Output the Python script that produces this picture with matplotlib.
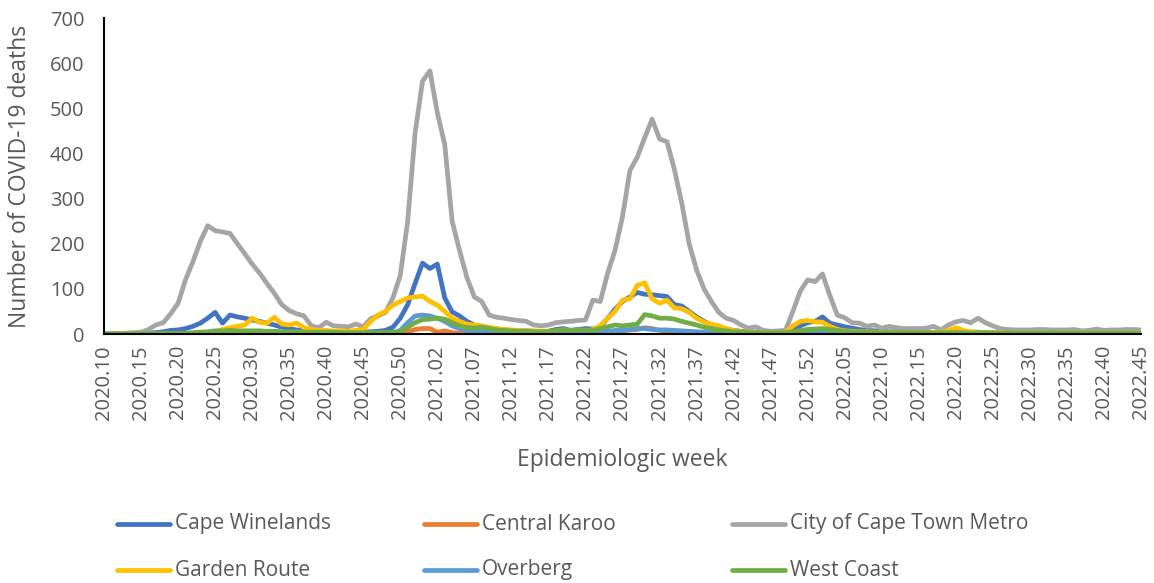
import matplotlib
matplotlib.use("Agg")
import matplotlib.pyplot as plt
from matplotlib.lines import Line2D

plt.rcParams['font.family'] = ['Open Sans', 'DejaVu Sans']

# epidemiologic weeks: 2020 w10-w53, 2021 w1-w52, 2022 w1-w45
weeks = ([f"2020.{w:02d}" for w in range(10, 54)]
         + [f"2021.{w:02d}" for w in range(1, 53)]
         + [f"2022.{w:02d}" for w in range(1, 46)])

cape_winelands = [
    0, 0, 0, 1, 1, 2, 2, 3, 5, 8,
    9, 12, 17, 24, 35, 48, 24, 42, 38, 35,
    31, 28, 24, 20, 15, 12, 9, 7, 5, 5,
    4, 4, 3, 3, 3, 4, 5, 6, 8, 15,
    35, 65, 112, 157, 145, 155, 80, 49, 40, 28,
    20, 17, 13, 11, 9, 8, 7, 7, 6, 6,
    6, 10, 12, 8, 10, 12, 11, 15, 35, 55,
    72, 82, 92, 88, 87, 85, 83, 65, 62, 50,
    38, 28, 20, 15, 10, 8, 6, 5, 4, 4,
    3, 3, 4, 10, 18, 25, 28, 38, 24, 20,
    16, 13, 10, 8, 7, 6, 5, 5, 4, 4,
    4, 4, 3, 3, 4, 5, 4, 4, 4, 3,
    3, 3, 3, 2, 2, 2, 2, 2, 2, 2,
    2, 2, 2, 1, 1, 1, 1, 1, 1, 1, 1]

central_karoo = [
    0, 0, 0, 0, 0, 0, 0, 0, 0, 0,
    0, 0, 0, 0, 1, 1, 2, 1, 1, 2,
    1, 2, 1, 1, 2, 1, 1, 1, 1, 1,
    1, 0, 1, 0, 1, 1, 0, 1, 1, 1,
    2, 5, 10, 12, 12, 4, 7, 3, 2, 2,
    1, 1, 2, 1, 1, 1, 0, 1, 1, 0,
    1, 1, 2, 1, 2, 2, 3, 3, 5, 6,
    7, 9, 10, 14, 12, 8, 6, 5, 4, 3,
    2, 2, 1, 1, 1, 1, 0, 0, 1, 0,
    0, 1, 1, 2, 3, 4, 5, 6, 4, 3,
    2, 2, 1, 1, 1, 1, 1, 0, 0, 0,
    0, 1, 0, 0, 1, 1, 0, 0, 1, 0,
    0, 0, 1, 0, 0, 0, 0, 1, 0, 0,
    0, 0, 0, 0, 1, 0, 0, 0, 0, 0, 0]

city_of_cape_town = [
    0, 0, 1, 2, 3, 4, 10, 20, 25, 45,
    68, 120, 160, 205, 240, 229, 226, 223, 200, 178,
    155, 135, 112, 90, 65, 52, 45, 40, 18, 14,
    26, 18, 17, 16, 22, 16, 34, 40, 48, 80,
    130, 250, 445, 560, 583, 490, 420, 250, 185, 125,
    82, 72, 42, 37, 35, 32, 30, 28, 20, 18,
    20, 25, 27, 28, 30, 31, 75, 72, 135, 186,
    260, 362, 392, 435, 476, 432, 426, 365, 290, 200,
    142, 100, 72, 48, 35, 30, 20, 13, 16, 8,
    6, 7, 8, 50, 95, 120, 116, 133, 85, 42,
    36, 25, 24, 17, 20, 13, 17, 14, 12, 12,
    12, 13, 17, 9, 20, 27, 30, 25, 35, 25,
    18, 12, 10, 9, 9, 9, 10, 10, 9, 9,
    9, 10, 7, 8, 11, 8, 9, 9, 10, 10, 9]

garden_route = [
    0, 0, 0, 0, 0, 0, 0, 0, 0, 0,
    0, 0, 0, 1, 2, 5, 10, 14, 17, 20,
    35, 26, 24, 37, 22, 20, 24, 14, 10, 8,
    8, 6, 7, 6, 8, 10, 28, 42, 50, 64,
    72, 80, 82, 84, 72, 64, 50, 35, 28, 22,
    20, 18, 15, 12, 10, 9, 8, 7, 7, 6,
    6, 5, 5, 5, 5, 6, 10, 18, 35, 50,
    75, 78, 108, 113, 78, 68, 75, 58, 56, 48,
    35, 26, 22, 18, 12, 8, 5, 4, 3, 3,
    3, 3, 4, 18, 28, 30, 27, 26, 17, 10,
    7, 6, 5, 5, 4, 4, 4, 3, 3, 3,
    3, 3, 3, 4, 8, 14, 8, 5, 4, 3,
    3, 3, 2, 2, 2, 2, 2, 2, 2, 2,
    2, 2, 2, 2, 2, 2, 2, 2, 2, 2, 2]

overberg = [
    0, 0, 0, 0, 0, 0, 0, 0, 0, 0,
    0, 0, 0, 0, 1, 1, 2, 2, 1, 2,
    2, 1, 2, 1, 1, 1, 1, 0, 1, 1,
    1, 1, 0, 1, 1, 1, 1, 1, 2, 2,
    8, 25, 40, 42, 40, 35, 28, 18, 12, 8,
    5, 5, 4, 3, 3, 2, 2, 2, 2, 2,
    2, 3, 3, 3, 4, 4, 5, 5, 6, 8,
    8, 10, 12, 12, 10, 9, 9, 8, 7, 6,
    5, 4, 3, 2, 2, 1, 1, 1, 1, 1,
    1, 1, 1, 2, 3, 4, 5, 6, 5, 4,
    3, 3, 2, 2, 2, 2, 1, 1, 1, 1,
    1, 1, 1, 0, 1, 1, 1, 0, 1, 1,
    0, 1, 0, 1, 0, 0, 1, 0, 0, 1,
    0, 0, 1, 0, 0, 0, 1, 0, 0, 0, 0]

west_coast = [
    0, 0, 0, 0, 0, 0, 0, 1, 1, 1,
    1, 2, 3, 4, 5, 7, 7, 8, 7, 7,
    7, 7, 6, 6, 5, 5, 5, 4, 4, 4,
    4, 4, 3, 3, 3, 3, 3, 3, 3, 4,
    6, 15, 25, 32, 33, 35, 33, 25, 18, 14,
    13, 15, 12, 9, 8, 7, 6, 6, 5, 5,
    5, 8, 10, 8, 10, 9, 8, 12, 16, 20,
    18, 20, 22, 43, 40, 35, 35, 33, 28, 24,
    20, 15, 12, 9, 7, 5, 4, 3, 3, 3,
    3, 3, 3, 5, 8, 10, 11, 12, 10, 8,
    6, 5, 4, 4, 3, 3, 3, 3, 3, 3,
    3, 3, 2, 3, 3, 3, 3, 2, 3, 3,
    2, 2, 3, 2, 2, 2, 2, 2, 3, 2,
    2, 2, 2, 2, 2, 2, 2, 2, 2, 2, 2]

series = [
    ("Cape Winelands", cape_winelands, "#4472C4"),
    ("Central Karoo", central_karoo, "#ED7D31"),
    ("City of Cape Town Metro", city_of_cape_town, "#A5A5A5"),
    ("Garden Route", garden_route, "#FFC000"),
    ("Overberg", overberg, "#5B9BD5"),
    ("West Coast", west_coast, "#70AD47"),
]

grey_txt = "#595959"
W, H = 1154, 583
fig = plt.figure(figsize=(W / 100, H / 100), dpi=100)
ax = fig.add_axes([104 / W, 1 - 334 / H, (1141 - 104) / W, (334 - 18) / H])

x = list(range(len(weeks)))
for name, vals, col in series:
    ax.plot(x, vals, color=col, lw=3.4, solid_joinstyle="round",
            solid_capstyle="round", label=name)

ax.set_xlim(0, len(weeks) - 1)
ax.set_ylim(0, 700)
ax.set_yticks(range(0, 701, 100))
ax.set_xticks(x[::5])
ax.set_xticklabels(weeks[::5], rotation=90)
ax.tick_params(length=0, labelsize=14.5, colors=grey_txt, pad=8)
ax.tick_params(axis="y", pad=14)

for s in ["top", "right"]:
    ax.spines[s].set_visible(False)
for s in ["left", "bottom"]:
    ax.spines[s].set_color("black")
    ax.spines[s].set_linewidth(1.5)

ax.set_xlabel("Epidemiologic week", fontsize=16.5, color=grey_txt, labelpad=20)
ax.set_ylabel("Number of COVID-19 deaths", fontsize=16.5, color=grey_txt, labelpad=13)

# legend: 3 columns x 2 rows, laid out in pixel positions
col_x = [117, 424, 732]
row_y = [524, 570]
for k, (name, vals, col) in enumerate(series):
    cx = col_x[k % 3]
    cy = row_y[k // 3]
    fy = 1 - cy / H
    fig.add_artist(Line2D([cx / W, (cx + 53) / W], [fy, fy], color=col,
                          lw=3.4, solid_capstyle="round"))
    fig.text((cx + 58) / W, fy, name, fontsize=15, color=grey_txt,
             va="center", ha="left")

fig.savefig("out.png", dpi=100)
